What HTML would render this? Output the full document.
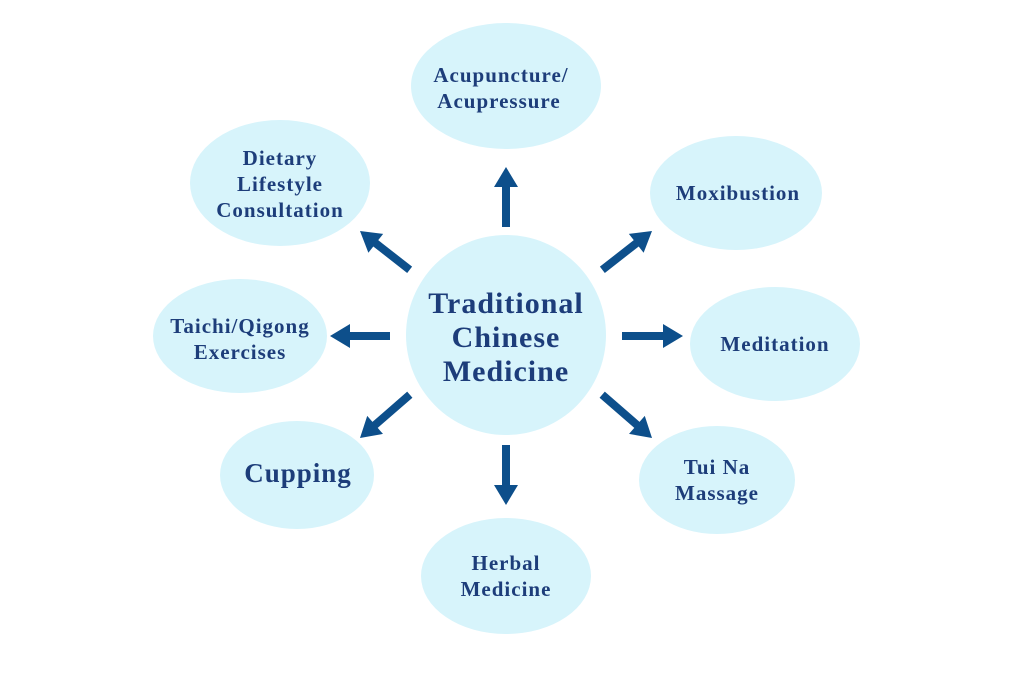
<!DOCTYPE html>
<html><head><meta charset="utf-8"><style>
html,body{margin:0;padding:0;background:#fff;}
svg{display:block;}
text{font-family:"Liberation Serif",serif;font-weight:bold;fill:#1d3d7a;text-anchor:middle;letter-spacing:1px;}
</style></head><body>
<svg width="1024" height="683" viewBox="0 0 1024 683" xmlns="http://www.w3.org/2000/svg">
<g fill="#d7f4fb">
<circle cx="506" cy="335" r="100"/>
<ellipse cx="506" cy="86" rx="95" ry="63"/>
<ellipse cx="280" cy="183" rx="90" ry="63"/>
<ellipse cx="736" cy="193" rx="86" ry="57"/>
<ellipse cx="240" cy="336" rx="87" ry="57"/>
<ellipse cx="775" cy="344" rx="85" ry="57"/>
<ellipse cx="297" cy="475" rx="77" ry="54"/>
<ellipse cx="717" cy="480" rx="78" ry="54"/>
<ellipse cx="506" cy="576" rx="85" ry="58"/>
</g>
<g fill="#0d4f8b">
<g transform="translate(506,167) rotate(-90)"><polygon points="0,0 -20,-12 -20,-4 -60,-4 -60,4 -20,4 -20,12"/></g>
<g transform="translate(506,505) rotate(90)"><polygon points="0,0 -20,-12 -20,-4 -60,-4 -60,4 -20,4 -20,12"/></g>
<g transform="translate(330,336) rotate(180)"><polygon points="0,0 -20,-12 -20,-4 -60,-4 -60,4 -20,4 -20,12"/></g>
<g transform="translate(683,336)"><polygon points="0,0 -20,-12 -20,-4 -61,-4 -61,4 -20,4 -20,12"/></g>
<g transform="translate(360,231) rotate(-142)"><polygon points="0,0 -20,-12 -20,-4 -63,-4 -63,4 -20,4 -20,12"/></g>
<g transform="translate(652,231) rotate(-38)"><polygon points="0,0 -20,-12 -20,-4 -63,-4 -63,4 -20,4 -20,12"/></g>
<g transform="translate(360,438) rotate(139)"><polygon points="0,0 -20,-12 -20,-4 -66,-4 -66,4 -20,4 -20,12"/></g>
<g transform="translate(652,438) rotate(41)"><polygon points="0,0 -20,-12 -20,-4 -66,-4 -66,4 -20,4 -20,12"/></g>
</g>
<text x="506" y="313" font-size="30">Traditional</text>
<text x="506" y="347" font-size="30">Chinese</text>
<text x="506" y="381" font-size="30">Medicine</text>
<text x="501" y="82" font-size="21">Acupuncture/</text>
<text x="499" y="108" font-size="21">Acupressure</text>
<text x="280" y="165" font-size="21">Dietary</text>
<text x="280" y="191" font-size="21">Lifestyle</text>
<text x="280" y="217" font-size="21">Consultation</text>
<text x="738" y="200" font-size="21">Moxibustion</text>
<text x="240" y="333" font-size="21">Taichi/Qigong</text>
<text x="240" y="359" font-size="21">Exercises</text>
<text x="775" y="351" font-size="21">Meditation</text>
<text x="298" y="482" font-size="27">Cupping</text>
<text x="717" y="474" font-size="21">Tui Na</text>
<text x="717" y="500" font-size="21">Massage</text>
<text x="506" y="570" font-size="21">Herbal</text>
<text x="506" y="596" font-size="21">Medicine</text>
</svg>
</body></html>
